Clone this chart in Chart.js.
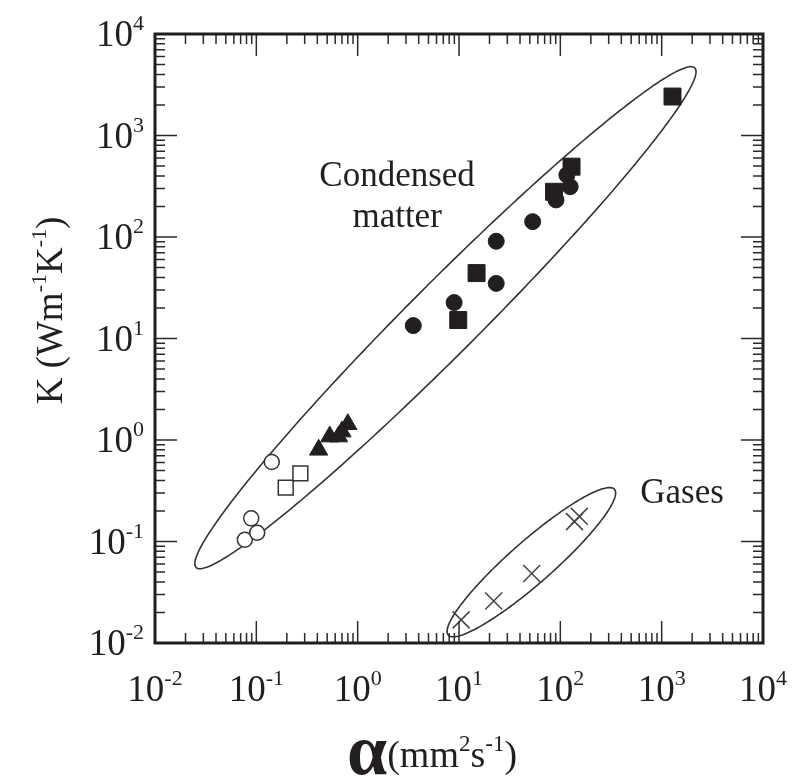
<!DOCTYPE html>
<html>
<head>
<meta charset="utf-8">
<script src="https://cdn.jsdelivr.net/npm/chart.js"></script>
<style>
  html, body { margin: 0; padding: 0; background: #fff; }
  #contenedor { width: 793px; height: 779px; }
</style>
</head>
<body>
<div id="contenedor"><canvas id="grafico" width="793" height="779"></canvas></div>
<script>
// Datos (alfa en mm2/s, K en W/mK)
const circAbiertoX = [0.142, 0.089, 0.077, 0.102];
const circAbiertoY = [0.607, 0.169, 0.104, 0.122];
const cuadAbiertoX = [0.195, 0.272];
const cuadAbiertoY = [0.339, 0.469];
const trianguloX = [0.412, 0.53, 0.648, 0.70, 0.80];
const trianguloY = [0.80, 1.08, 1.08, 1.21, 1.43];
const circLlenoX = [3.54, 8.95, 23.3, 23.3, 53.3, 90.6, 125, 116];
const circLlenoY = [13.4, 22.6, 34.9, 90.8, 141.6, 232, 313, 408];
const cuadLlenoX = [9.83, 14.9, 86.7, 129, 1279];
const cuadLlenoY = [15.2, 44.1, 279, 493, 2420];
const gasesX = [10.5, 22.0, 52.2, 138, 154];
const gasesY = [0.0169, 0.0259, 0.0483, 0.157, 0.177];

// exponentes de las decadas
const decadas = [-2, -1, 0, 1, 2, 3, 4];

// elipses en decadas: [centro log x, centro log y, semieje mayor, semieje menor, angulo]
const elipseCondensada = [0.866, 1.205, 3.48, 0.35, 45];
const elipseGases = [1.714, -1.204, 1.09, 0.21, 41.2];

// textos sobre el grafico [texto, x, y]
const anotaciones = [
    ['Condensed', 2.45, 315],
    ['matter', 2.45, 126],
    ['Gases', 1589, 0.237]
];

const SERIF = "'Liberation Serif', 'Times New Roman', serif";
const NEGRO = '#231f20';

function puntos(xs, ys) {
    return xs.map((x, i) => ({ x: x, y: ys[i] }));
}

// dibuja texto con partes en superindice
function textoSup(ctx, partes, x, y, align, tam, tamSup) {
    let ancho = 0;
    const anchos = partes.map(([t, s]) => {
        ctx.font = `${s ? tamSup : tam}px ${SERIF}`;
        const w = ctx.measureText(t).width;
        ancho += w;
        return w;
    });
    let cx = align === 'center' ? x - ancho / 2 : (align === 'right' ? x - ancho : x);
    ctx.textAlign = 'left';
    ctx.textBaseline = 'alphabetic';
    partes.forEach(([t, s], i) => {
        ctx.font = `${s ? tamSup : tam}px ${SERIF}`;
        ctx.fillText(t, cx, s ? y - tam * 0.42 : y);
        cx += anchos[i];
    });
    return ancho;
}

function trazarElipse(ctx, ex, ey, e) {
    const [cx, cy, a, b, ang] = e;
    const th = ang * Math.PI / 180;
    ctx.beginPath();
    for (let i = 0; i <= 240; i++) {
        const t = i / 240 * 2 * Math.PI;
        const lx = cx + a * Math.cos(th) * Math.cos(t) - b * Math.sin(th) * Math.sin(t);
        const ly = cy + a * Math.sin(th) * Math.cos(t) + b * Math.cos(th) * Math.sin(t);
        const px = ex.getPixelForValue(Math.pow(10, lx));
        const py = ey.getPixelForValue(Math.pow(10, ly));
        if (i === 0) ctx.moveTo(px, py); else ctx.lineTo(px, py);
    }
    ctx.closePath();
    ctx.stroke();
}

const pluginElipses = {
    id: 'elipses',
    beforeDatasetsDraw(chart) {
        const ctx = chart.ctx;
        const ex = chart.scales.x, ey = chart.scales.y;
        ctx.save();
        ctx.strokeStyle = '#333';
        ctx.lineWidth = 1.6;
        trazarElipse(ctx, ex, ey, elipseCondensada);
        trazarElipse(ctx, ex, ey, elipseGases);
        ctx.fillStyle = NEGRO;
        ctx.font = `35px ${SERIF}`;
        ctx.textAlign = 'center';
        ctx.textBaseline = 'alphabetic';
        anotaciones.forEach(([t, x, y]) => {
            ctx.fillText(t, ex.getPixelForValue(x), ey.getPixelForValue(y));
        });
        ctx.restore();
    }
};

const pluginMarco = {
    id: 'marco',
    afterDraw(chart) {
        const ctx = chart.ctx;
        const ca = chart.chartArea;
        const ex = chart.scales.x, ey = chart.scales.y;
        ctx.save();

        // marcas hacia adentro en los cuatro lados
        ctx.strokeStyle = '#2a2a2a';
        ctx.lineWidth = 1.5;
        ctx.beginPath();
        decadas.forEach(k => {
            for (let m = 1; m <= 9; m++) {
                const v = m * Math.pow(10, k);
                if (v > 1e4) continue;
                const largo = m === 1 ? 22 : 10;
                const px = ex.getPixelForValue(v);
                const py = ey.getPixelForValue(v);
                ctx.moveTo(px, ca.bottom); ctx.lineTo(px, ca.bottom - largo);
                ctx.moveTo(px, ca.top); ctx.lineTo(px, ca.top + largo);
                ctx.moveTo(ca.left, py); ctx.lineTo(ca.left + largo, py);
                ctx.moveTo(ca.right, py); ctx.lineTo(ca.right - largo, py);
            }
        });
        ctx.stroke();

        ctx.lineWidth = 3;
        ctx.strokeStyle = '#1e1e1e';
        ctx.strokeRect(ca.left, ca.top, ca.right - ca.left, ca.bottom - ca.top);

        // etiquetas de las decadas
        ctx.fillStyle = NEGRO;
        decadas.forEach(k => {
            const v = Math.pow(10, k);
            textoSup(ctx, [['10', false], [String(k), true]],
                ex.getPixelForValue(v), ca.bottom + 58, 'center', 37, 22);
            textoSup(ctx, [['10', false], [String(k), true]],
                ca.left - 11, ey.getPixelForValue(v) + 12, 'right', 37, 22);
        });

        // titulo eje y
        ctx.save();
        ctx.translate(50, (ca.top + ca.bottom) / 2 - 28);
        ctx.rotate(-Math.PI / 2);
        textoSup(ctx, [['K (Wm', false], ['-1', true], ['K', false], ['-1', true], [')', false]],
            0, 12, 'center', 37, 22);
        ctx.restore();

        // titulo eje x
        ctx.font = `bold 72px ${SERIF}`;
        ctx.textAlign = 'left';
        ctx.textBaseline = 'alphabetic';
        ctx.fillText('\u03b1', 347, 774);
        const wa = ctx.measureText('\u03b1').width;
        textoSup(ctx, [['(mm', false], ['2', true], ['s', false], ['-1', true], [')', false]],
            347 + wa, 767, 'left', 38, 23);

        ctx.restore();
    }
};

const conjunto = (datos, estilo, radio, relleno, borde, grosor) => ({
    data: datos,
    showLine: false,
    pointStyle: estilo,
    pointRadius: radio,
    pointBackgroundColor: relleno,
    pointBorderColor: borde,
    pointBorderWidth: grosor,
    backgroundColor: relleno,
    borderColor: borde
});

new Chart(document.getElementById('grafico'), {
    type: 'scatter',
    data: {
        datasets: [
            conjunto(puntos(circAbiertoX, circAbiertoY), 'circle', 7.5, '#fff', '#333', 1.5),
            conjunto(puntos(cuadAbiertoX, cuadAbiertoY), 'rect', 10.5, '#fff', '#333', 1.5),
            conjunto(puntos(trianguloX, trianguloY), 'triangle', 10.5, NEGRO, NEGRO, 1),
            conjunto(puntos(circLlenoX, circLlenoY), 'circle', 8, NEGRO, NEGRO, 1),
            conjunto(puntos(cuadLlenoX, cuadLlenoY), 'rect', 12, NEGRO, NEGRO, 1),
            conjunto(puntos(gasesX, gasesY), 'crossRot', 12, '#444', '#444', 1.5)
        ]
    },
    options: {
        responsive: false,
        animation: false,
        events: [],
        layout: { padding: { left: 155, top: 34, right: 30, bottom: 136 } },
        plugins: { legend: { display: false }, tooltip: { enabled: false } },
        scales: {
            x: { type: 'logarithmic', min: 0.01, max: 10000, display: false },
            y: { type: 'logarithmic', min: 0.01, max: 10000, display: false }
        }
    },
    plugins: [pluginElipses, pluginMarco]
});
</script>
</body>
</html>
